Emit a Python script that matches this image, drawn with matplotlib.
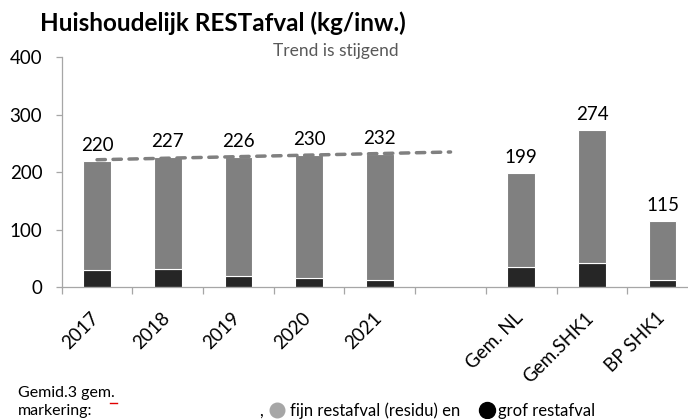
import numpy as np
import matplotlib
matplotlib.use("Agg")
import matplotlib.pyplot as plt
from matplotlib.transforms import ScaledTranslation
from matplotlib.lines import Line2D

plt.rcParams["font.family"] = ["Lato", "DejaVu Sans"]

# data
categorieen = ["2017", "2018", "2019", "2020", "2021", "", "Gem. NL", "Gem.SHK1", "BP SHK1"]
totaal = [220, 227, 226, 230, 232, np.nan, 199, 274, 115]
grof = [29, 32, 20, 16, 12, np.nan, 34, 42, 13]
trend_jaren = [0, 1, 2, 3, 4]  # index van 2017..2021

totaal = np.array(totaal, dtype=float)
grof = np.array(grof, dtype=float)
fijn = totaal - grof

W, H = 688, 419
fig = plt.figure(figsize=(W / 100, H / 100), dpi=100)
ax = fig.add_axes([61.7 / W, 1 - 287 / H, (698 - 61.7) / W, (287 - 57.3) / H])

x = np.arange(len(categorieen))
kleur_fijn = "#808080"
kleur_grof = "#262626"
bw = 0.39
ax.bar(x, grof, bw, color=kleur_grof, edgecolor="white", linewidth=0.8, zorder=2)
ax.bar(x, fijn, bw, bottom=grof, color=kleur_fijn, edgecolor="white", linewidth=0.8, zorder=2)

# labels boven de staven
for xi, t in zip(x, totaal):
    if np.isnan(t):
        continue
    ax.annotate(f"{t:.0f}", (xi, t), xytext=(0, 10), textcoords="offset pixels",
                ha="center", va="baseline", fontsize=13.5, color="black")

# trendlijn (lineaire fit over de jaren, doorgetrokken tot de lege kolom)
tx = np.array(trend_jaren)
a, b = np.polyfit(tx, totaal[tx], 1)
tx2 = np.array([0, 5])
ax.plot(tx2, a * tx2 + b, color=kleur_fijn, linewidth=2.5, linestyle=(0, (2.4, 2.2)),
        dash_capstyle="round", zorder=3)

ax.set_xlim(-0.5, len(categorieen) - 0.5)
ax.set_ylim(0, 400)
ax.set_yticks([0, 100, 200, 300, 400])

spine_kleur = "#a6a6a6"
for s in ["top", "right"]:
    ax.spines[s].set_visible(False)
ax.spines["left"].set_color(spine_kleur)
ax.spines["bottom"].set_color(spine_kleur)
ax.spines["left"].set_linewidth(0.9)
ax.spines["bottom"].set_linewidth(0.9)

ax.tick_params(axis="y", length=4, width=0.9, color=spine_kleur, labelsize=13.5, pad=10)
ax.set_xticks(x)
ax.set_xticklabels(categorieen, rotation=45, ha="right", va="top", rotation_mode="anchor")
ax.tick_params(axis="x", which="major", length=0, labelsize=13.5, pad=16)
ax.set_xticks(np.arange(-0.5, len(categorieen) + 0.5, 1), minor=True)
ax.tick_params(axis="x", which="minor", length=5, width=0.9, color=spine_kleur)
for lbl in ax.get_xticklabels():
    lbl.set_transform(lbl.get_transform() + ScaledTranslation(-7 / 100, 0, fig.dpi_scale_trans))

# titels
fig.text(40 / W, 1 - 23 / H, "Huishoudelijk RESTafval (kg/inw.)", fontsize=17.5,
         fontweight="bold", ha="left", va="center")
fig.text(336 / W, 1 - 51 / H, "Trend is stijgend", fontsize=12.5, color="#595959",
         ha="center", va="center")

# onderschrift / legenda
fs = 12
fig.text(18 / W, 1 - 393 / H, "Gemid.3 gem.", fontsize=11.5, ha="left", va="center")
fig.text(18 / W, 1 - 411 / H, "markering:", fontsize=11.5, ha="left", va="center")
fig.add_artist(Line2D([110 / W, 117 / W], [1 - 403 / H, 1 - 403 / H], color="#e00000",
                      linewidth=1.0, transform=fig.transFigure))
fig.text(259 / W, 1 - 411 / H, ",", fontsize=fs, ha="left", va="center")
fig.add_artist(Line2D([277 / W], [1 - 410 / H], marker="o", markersize=10.5, color="#a6a6a6",
                      linestyle="none", transform=fig.transFigure))
fig.text(290 / W, 1 - 411 / H, "fijn restafval (residu) en", fontsize=fs, ha="left", va="center")
fig.add_artist(Line2D([487 / W], [1 - 410 / H], marker="o", markersize=11.5, color="black",
                      linestyle="none", transform=fig.transFigure))
fig.text(498 / W, 1 - 411 / H, "grof restafval", fontsize=fs, ha="left", va="center")

fig.savefig("out.png", dpi=100)
